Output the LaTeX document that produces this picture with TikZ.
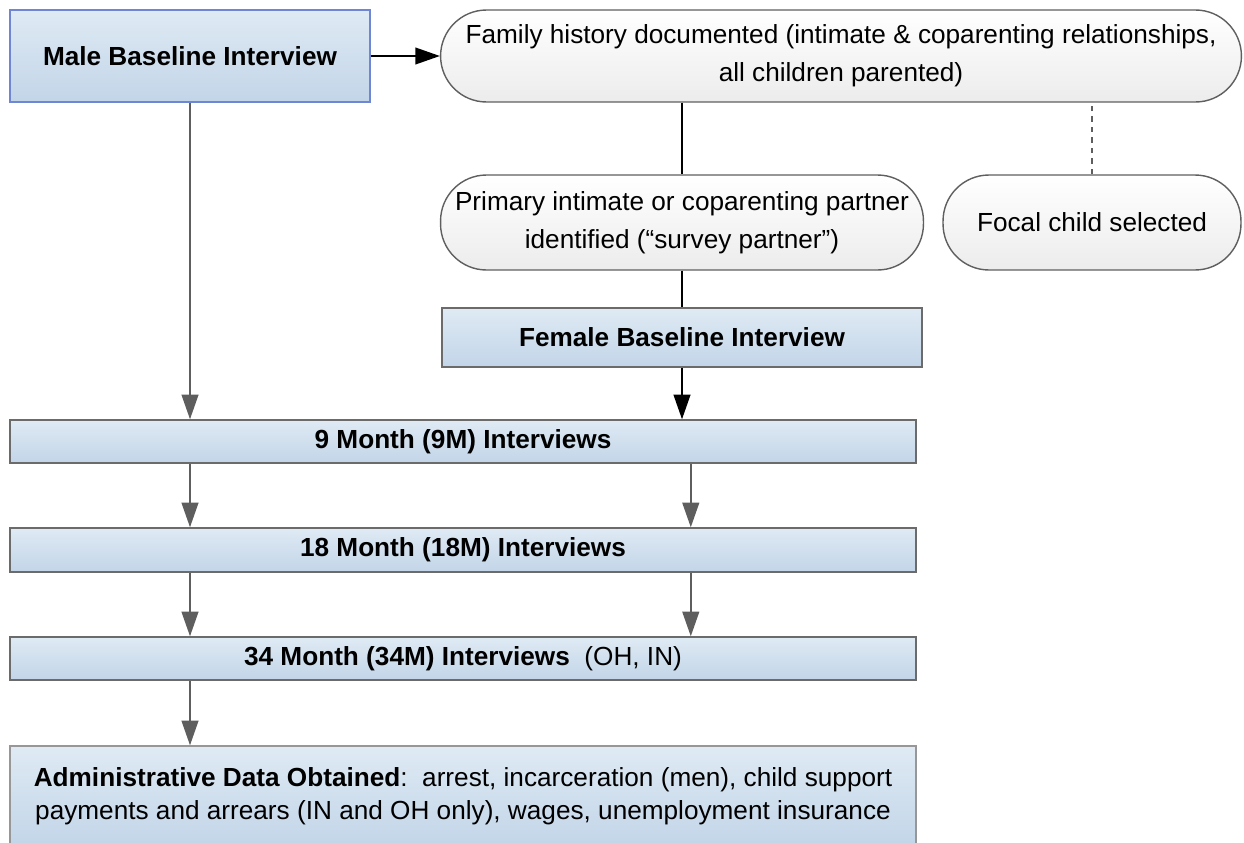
\documentclass[tikz,border=0pt]{standalone}
\usepackage{fontspec}
\setmainfont{Liberation Sans}
\usepackage{tikz}
\usetikzlibrary{arrows.meta, positioning, calc}
\definecolor{boxtop}{RGB}{223,234,244}
\definecolor{boxbot}{RGB}{194,213,232}
\definecolor{boxgray}{RGB}{107,107,107}
\definecolor{malebdr}{RGB}{110,134,212}
\definecolor{pillgray}{RGB}{95,95,95}
\definecolor{pillbot}{RGB}{236,236,236}
\definecolor{flowgray}{RGB}{94,94,94}

\begin{document}
\begin{tikzpicture}[
    x=0.02cm, y=-0.02cm,
    every node/.style={font=\fontsize{14.9}{19}\selectfont},
    stage/.style={draw=boxgray, line width=0.8pt, top color=boxtop,
                  bottom color=boxbot, inner sep=0pt, align=center},
    pill/.style={draw=pillgray, line width=0.8pt, top color=white,
                 bottom color=pillbot, rounded corners=0.92cm,
                 inner sep=0pt, align=center,
                 font=\fontsize{14.9}{21.5}\selectfont},
    flow/.style={line width=1.1pt, flowgray,
                 -{Triangle[length=14pt, width=9.5pt]}},
    blackflow/.style={line width=1.1pt, black,
                 -{Triangle[length=14pt, width=9.5pt]}},
    tie/.style={line width=1pt, black}
]
\useasboundingbox (0,0) rectangle (1244,842);
\clip (0,0) rectangle (1244,842);

% baseline interviews and family history
\node[stage, draw=malebdr, minimum width=7.2cm, minimum height=1.84cm]
    (male) at (190,56) {\bfseries Male Baseline Interview};
\node[pill, minimum width=16.02cm, minimum height=1.84cm]
    (family) at (841,56)
    {Family history documented (intimate \& coparenting relationships,\\
     all children parented)};
\node[pill, minimum width=9.66cm, minimum height=1.9cm]
    (primary) at (682,222.5)
    {Primary intimate or coparenting partner\\
     identified (“survey partner”)};
\node[pill, minimum width=5.96cm, minimum height=1.9cm]
    (focal) at (1092,222.5) {Focal child selected};
\node[stage, minimum width=9.6cm, minimum height=1.18cm]
    (female) at (682,337.5) {\bfseries Female Baseline Interview};

% follow-up waves
\node[stage, minimum width=18.12cm, minimum height=0.86cm]
    (m9) at (463,441.5) {\bfseries 9 Month (9M) Interviews};
\node[stage, minimum width=18.12cm, minimum height=0.88cm]
    (m18) at (463,550) {\bfseries 18 Month (18M) Interviews};
\node[stage, minimum width=18.12cm, minimum height=0.86cm]
    (m34) at (463,658.5) {\textbf{34 Month (34M) Interviews}\ \ (OH, IN)};
\node[stage, draw=boxgray!70, minimum width=18.12cm, minimum height=2cm]
    (admin) at (463,796)
    {\textbf{Administrative Data Obtained}:\ \ arrest, incarceration (men), child support\\
     payments and arrears (IN and OH only), wages, unemployment insurance};

% links
\draw[blackflow] (male.east) -- (family.west);
\draw[tie] (family.south -| primary) -- (primary.north);
\draw[tie, flowgray, dashed, line width=0.7pt] (focal.north) -- (focal.north |- family.south);
\draw[tie] (primary.south) -- (female.north);
\draw[blackflow] (female.south) -- (female.south |- m9.north);
\draw[flow] (male.south) -- (male.south |- m9.north);
\foreach \a/\b in {m9/m18, m18/m34}{
    \draw[flow] (\a.south -| male) -- (\b.north -| male);
    \draw[flow] ([xshift=5] \a.south -| female) -- ([xshift=5] \b.north -| female);
}
\draw[flow] (m34.south -| male) -- (admin.north -| male);
\end{tikzpicture}
\end{document}
